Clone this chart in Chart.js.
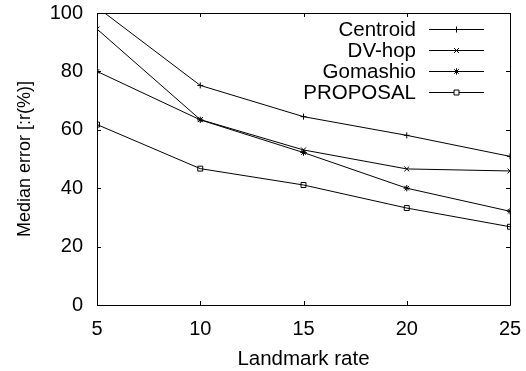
<!DOCTYPE html>
<html>
<head>
<meta charset="utf-8">
<script src="https://cdn.jsdelivr.net/npm/chart.js@4/dist/chart.umd.min.js"></script>
<style>
  html, body { margin: 0; padding: 0; background: #fff; }
  #wrap { width: 526px; height: 371px; position: relative; }
</style>
</head>
<body>
<div id="wrap"><canvas id="c" width="526" height="371"></canvas></div>
<script>
const landmarkRates = [5, 10, 15, 20, 25];
const centroid = [102, 75.2, 64.5, 58.1, 50.9];
const dvHop = [94.5, 63.5, 53.1, 46.6, 45.9];
const gomashio = [80, 63.4, 52.2, 40.0, 32.1];
const proposal = [61.8, 46.7, 41.1, 33.2, 26.8];
const seriesNames = ['Centroid', 'DV-hop', 'Gomashio', 'PROPOSAL'];
const xTicks = [5, 10, 15, 20, 25];
const yTicks = [0, 20, 40, 60, 80, 100];

const FONT = 'Liberation Sans, Arial, Helvetica, sans-serif';

function pts(vals) { return landmarkRates.map((x, i) => ({ x: x, y: vals[i] })); }

const styles = [
  { pointStyle: 'cross', pointRadius: 3 },
  { pointStyle: 'crossRot', pointRadius: 3.5 },
  { pointStyle: 'star', pointRadius: 3.2 },
  { pointStyle: 'rect', pointRadius: 3.5 }
];
const allVals = [centroid, dvHop, gomashio, proposal];

const datasets = allVals.map((v, i) => ({
  label: seriesNames[i],
  data: pts(v),
  borderColor: '#000',
  backgroundColor: 'rgba(0,0,0,0)',
  borderWidth: 1,
  pointStyle: styles[i].pointStyle,
  pointRadius: styles[i].pointRadius,
  pointBorderColor: '#000',
  pointBackgroundColor: 'rgba(0,0,0,0)',
  pointBorderWidth: 1,
  tension: 0,
  fill: false
}));

const framePlugin = {
  id: 'frame',
  afterDraw(chart) {
    const ctx = chart.ctx;
    const a = chart.chartArea;
    const xs = chart.scales.x, ys = chart.scales.y;
    ctx.save();
    ctx.strokeStyle = '#000';
    ctx.lineWidth = 1;
    ctx.beginPath();
    ctx.rect(Math.round(a.left) + 0.5, Math.round(a.top) + 0.5, Math.round(a.right - a.left), Math.round(a.bottom - a.top));
    ctx.stroke();
    const tl = 4;
    ctx.beginPath();
    xTicks.forEach(t => {
      const px = Math.round(xs.getPixelForValue(t)) + 0.5;
      ctx.moveTo(px, a.bottom); ctx.lineTo(px, a.bottom - tl);
      ctx.moveTo(px, a.top); ctx.lineTo(px, a.top + tl);
    });
    yTicks.forEach(t => {
      const py = Math.round(ys.getPixelForValue(t)) + 0.5;
      ctx.moveTo(a.left, py); ctx.lineTo(a.left + tl, py);
      ctx.moveTo(a.right, py); ctx.lineTo(a.right - tl, py);
    });
    ctx.stroke();

    // legend (gnuplot style: text right-aligned, then sample)
    ctx.font = '20.5px ' + FONT;
    ctx.textAlign = 'right';
    ctx.textBaseline = 'middle';
    chart.data.datasets.forEach((ds, i) => {
      const y = a.top + 16 + i * 21;
      const textRight = a.right - 94;
      ctx.fillStyle = '#000';
      ctx.fillText(ds.label, textRight, y + 1);
      const x0 = a.right - 81, x1 = a.right - 26;
      ctx.beginPath();
      ctx.moveTo(x0, Math.round(y) + 0.5);
      ctx.lineTo(x1, Math.round(y) + 0.5);
      ctx.stroke();
      ctx.fillStyle = '#fff';
      Chart.helpers.drawPoint(ctx, {
        pointStyle: ds.pointStyle,
        radius: ds.pointRadius,
        borderWidth: 1,
        rotation: 0
      }, (x0 + x1) / 2, Math.round(y) + 0.5);
    });
    ctx.restore();
  }
};

new Chart(document.getElementById('c'), {
  type: 'line',
  data: { datasets: datasets },
  options: {
    responsive: false,
    animation: false,
    devicePixelRatio: 1,
    layout: { padding: { left: 0, right: 16, top: 13, bottom: 0 } },
    plugins: { legend: { display: false }, tooltip: { enabled: false } },
    scales: {
      x: {
        type: 'linear',
        min: 5, max: 25,
        afterBuildTicks(s) { s.ticks = xTicks.map(v => ({ value: v })); },
        afterFit(s) { s.height = 66; s.paddingLeft = 0; s.paddingRight = 0; },
        grid: { display: false, drawTicks: false },
        border: { display: false },
        ticks: { color: '#000', font: { family: FONT, size: 20 }, padding: 12, maxRotation: 0 },
        title: { display: true, text: 'Landmark rate', color: '#000', font: { family: FONT, size: 20.5 }, padding: { top: 0, bottom: -1 } }
      },
      y: {
        min: 0, max: 100,
        afterBuildTicks(s) { s.ticks = yTicks.map(v => ({ value: v })); },
        afterFit(s) { s.width = 97; s.paddingTop = 0; s.paddingBottom = 0; },
        grid: { display: false, drawTicks: false },
        border: { display: false },
        ticks: { color: '#000', font: { family: FONT, size: 20 }, padding: 14 },
        title: { display: true, text: 'Median error [:r(%)]', color: '#000', font: { family: FONT, size: 18 }, padding: { top: 14, bottom: 0 } }
      }
    }
  },
  plugins: [framePlugin]
});
</script>
</body>
</html>
